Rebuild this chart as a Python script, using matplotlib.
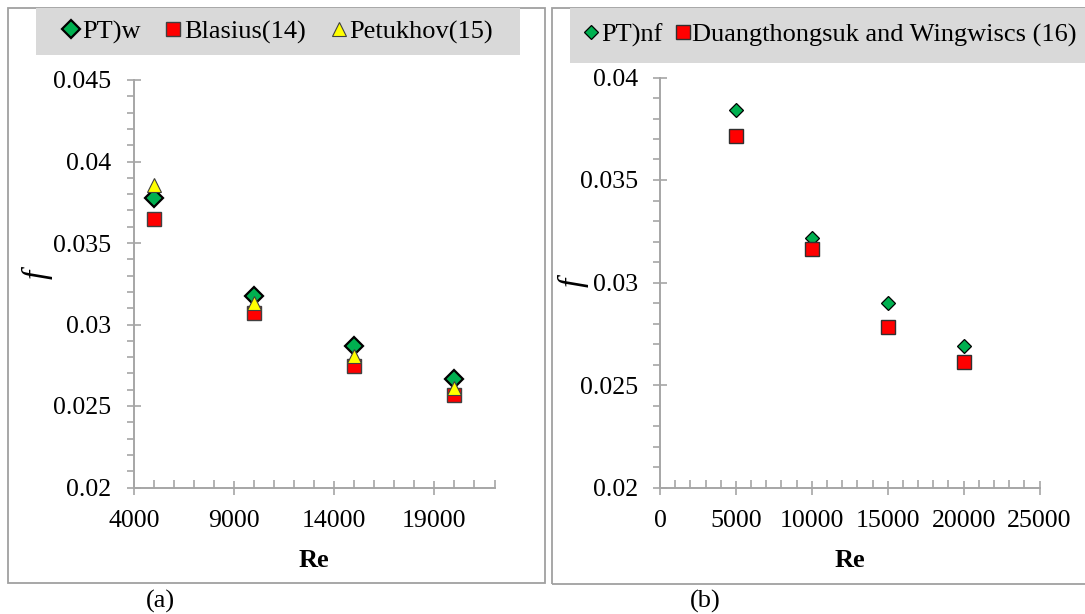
import matplotlib
matplotlib.use("Agg")
import matplotlib.pyplot as plt
from matplotlib.patches import Rectangle
from matplotlib.ticker import MultipleLocator, FixedLocator

plt.rcParams['font.family'] = ['Liberation Serif', 'DejaVu Serif']

# ---------------- data ----------------
re_a = [5000, 10000, 15000, 20000]
f_pt_w = [0.03778, 0.03177, 0.02868, 0.02667]
f_blasius = [0.03647, 0.03072, 0.02745, 0.02568]
f_petukhov = [0.03856, 0.03134, 0.02807, 0.02609]

re_b = [5000, 10000, 15000, 20000]
f_pt_nf = [0.0384, 0.03217, 0.0290, 0.02692]
f_duang = [0.03713, 0.03165, 0.02783, 0.02611]

xticks_a = [4000, 9000, 14000, 19000]
yticks_a = [0.02, 0.025, 0.03, 0.035, 0.04, 0.045]
xticks_b = [0, 5000, 10000, 15000, 20000, 25000]
yticks_b = [0.02, 0.025, 0.03, 0.035, 0.04]

GREEN = '#00B050'
RED = '#FF0000'
YELLOW = '#FFFF00'
AXC = '#A6A6A6'
FS = 18.6
LFS = 19

W, H = 1085, 614
fig = plt.figure(figsize=(W / 100, H / 100), dpi=100)

def fx(px):
    return px / W

def fy(py):
    return 1 - py / H

# outer frames
fig.patches.append(Rectangle((fx(8), fy(583)), fx(537), 575 / H, transform=fig.transFigure,
                             fill=False, edgecolor='#A0A0A0', lw=1.3, zorder=0))
fig.patches.append(Rectangle((fx(552), fy(584)), fx(560), 576 / H, transform=fig.transFigure,
                             fill=False, edgecolor='#A0A0A0', lw=1.3, zorder=0))
# legend backgrounds
fig.patches.append(Rectangle((fx(36), fy(55)), fx(484), 47 / H, transform=fig.transFigure,
                             facecolor='#D9D9D9', edgecolor='none', zorder=0))
fig.patches.append(Rectangle((fx(570), fy(63)), fx(520), 55 / H, transform=fig.transFigure,
                             facecolor='#D9D9D9', edgecolor='none', zorder=0))

ax1 = fig.add_axes([fx(133.8), fy(487.5), fx(360.7), 407.5 / H])
ax2 = fig.add_axes([fx(660), fy(487.5), fx(379.5), 410 / H])


def style_axes(ax):
    ax.set_facecolor('none')
    for s in ['top', 'right']:
        ax.spines[s].set_visible(False)
    for s in ['left', 'bottom']:
        ax.spines[s].set_color(AXC)
        ax.spines[s].set_linewidth(1.4)
    ax.tick_params(which='major', axis='both', direction='inout', length=10, width=1.2,
                   color=AXC, labelsize=FS)
    ax.tick_params(which='minor', axis='y', direction='out', length=5, width=1.2, color=AXC)
    ax.tick_params(which='minor', axis='x', direction='in', length=6, width=1.2, color=AXC)
    ax.tick_params(axis='y', which='major', pad=11)
    ax.tick_params(axis='x', which='major', pad=11)


# ---------------- panel (a) ----------------
style_axes(ax1)
ax1.set_xlim(4000, 22000)
ax1.set_ylim(0.02, 0.045)
ax1.xaxis.set_major_locator(FixedLocator(xticks_a))
ax1.xaxis.set_minor_locator(MultipleLocator(1000))
ax1.yaxis.set_major_locator(FixedLocator(yticks_a))
ax1.yaxis.set_minor_locator(MultipleLocator(0.001))
ax1.set_xticklabels([str(v) for v in xticks_a])
ax1.set_yticklabels([f'{v:g}' for v in yticks_a])

ax1.plot(re_a, f_pt_w, ls='none', marker='D', ms=9.2, mfc=GREEN, mec='black', mew=1.6,
         label='PT)w', zorder=3)
ax1.plot(re_a, f_blasius, ls='none', marker='s', ms=9.6, mfc=RED, mec='#404040', mew=1.0,
         label='Blasius(14)', zorder=4)
ax1.plot(re_a, f_petukhov, ls='none', marker='^', ms=10, mfc=YELLOW, mec='#404040', mew=0.8,
         label='Petukhov(15)', zorder=5)
for ln in ax1.lines:
    ln.set_clip_on(False)

ax1.set_xlabel('Re', fontsize=LFS, fontweight='bold')
ax1.xaxis.label.set_va('center')
ax1.xaxis.set_label_coords(0.5, -0.178)
ax1.set_ylabel('f', fontsize=24, style='italic')
ax1.yaxis.label.set_va('center')
ax1.yaxis.label.set_ha('center')
ax1.yaxis.set_label_coords(-0.268, 0.524)

fig.legend(handles=ax1.lines, loc='center left', bbox_to_anchor=(fx(62), fy(32)), ncol=3,
           frameon=False, fontsize=LFS, handlelength=0.7, handletextpad=0.05,
           columnspacing=0.9, borderpad=0.0, borderaxespad=0.0)

# ---------------- panel (b) ----------------
style_axes(ax2)
ax2.set_xlim(0, 25000)
ax2.set_ylim(0.02, 0.04)
ax2.xaxis.set_major_locator(FixedLocator(xticks_b))
ax2.xaxis.set_minor_locator(MultipleLocator(1000))
ax2.yaxis.set_major_locator(FixedLocator(yticks_b))
ax2.yaxis.set_minor_locator(MultipleLocator(0.001))
ax2.set_xticklabels([str(v) for v in xticks_b])
ax2.set_yticklabels([f'{v:g}' for v in yticks_b])

ax2.plot(re_b, f_pt_nf, ls='none', marker='D', ms=6.8, mfc=GREEN, mec='black', mew=0.9,
         label='PT)nf', zorder=3)
ax2.plot(re_b, f_duang, ls='none', marker='s', ms=9.6, mfc=RED, mec='#303030', mew=1.0,
         label='Duangthongsuk and Wingwiscs (16)', zorder=4)
for ln in ax2.lines:
    ln.set_clip_on(False)

ax2.set_xlabel('Re', fontsize=LFS, fontweight='bold')
ax2.xaxis.label.set_va('center')
ax2.xaxis.set_label_coords(0.5, -0.178)
ax2.set_ylabel('f', fontsize=24, style='italic')
ax2.yaxis.label.set_va('center')
ax2.yaxis.label.set_ha('center')
ax2.yaxis.set_label_coords(-0.229, 0.501)

fig.legend(handles=ax2.lines, loc='center left', bbox_to_anchor=(fx(582), fy(35)), ncol=2,
           frameon=False, fontsize=LFS, handlelength=0.7, handletextpad=0.02,
           columnspacing=0.42, borderpad=0.0, borderaxespad=0.0)

fig.text(fx(160), fy(601), '(a)', fontsize=LFS, ha='center', va='center')
fig.text(fx(705), fy(601), '(b)', fontsize=LFS, ha='center', va='center')

fig.savefig('out.png', dpi=100)
